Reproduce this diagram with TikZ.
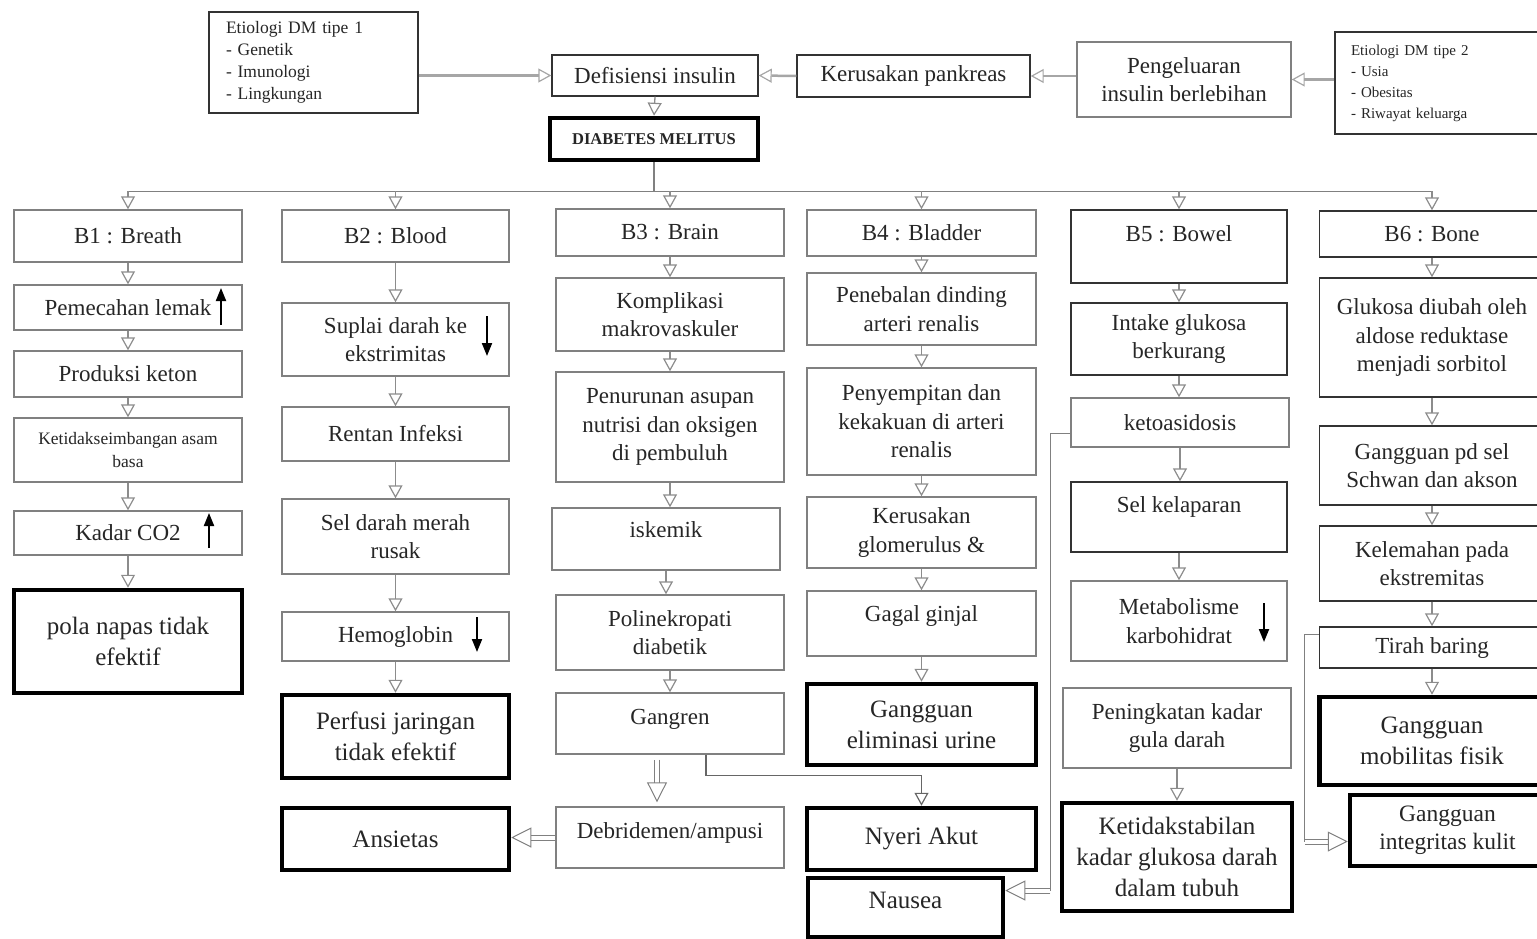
\documentclass[tikz,border=0pt]{standalone}
\usepackage{fontspec}
\setmainfont{Liberation Serif}
\usetikzlibrary{arrows.meta}

\begin{document}
\begin{tikzpicture}[
    x=1pt, y=-1pt,
    box/.style={draw=black!50, line width=1.4pt, fill=white, align=center, inner sep=2pt, text=black!85, font=\fontsize{23}{28.5}\selectfont},
    dark/.style={box, draw=black!80},
    dx/.style={box, draw=black, line width=4.5pt, font=\fontsize{25}{31}\selectfont},
    topbox/.style 2 args={inner ysep=0pt, text height=#1pt, text depth=#2pt},
    link/.style={draw=black!50, line width=1.2pt},
    arr/.style={draw=black!45, line width=1.3pt, -{Triangle[open, length=13pt, width=14pt, line width=1.2pt]}},
    toparr/.style={arr, draw=black!35, line width=2.5pt},
    bigarr/.style={draw=black!50, line width=1pt, double, double distance=4pt, -{Triangle[open, length=20pt, width=20pt]}},
    updown/.style={black, line width=2pt, -{Triangle[length=13pt, width=10pt]}}
]
\useasboundingbox (0,0) rectangle (1537,939);
% causes
\node[dark, font=\fontsize{17.5}{22}\selectfont, align=left, text width=175pt, minimum width=209pt, minimum height=101pt] (etia) at (313.5,62.5) {Etiologi DM tipe 1\\- Genetik\\- Imunologi\\- Lingkungan};
\node[dark, minimum width=206pt, minimum height=41pt] (def) at (655,75.5) {Defisiensi insulin};
\node[dx, font=\fontsize{16.5}{19}\selectfont\bfseries, minimum width=208pt, minimum height=42pt] (dm) at (654,139) {DIABETES MELITUS};
\node[dark, minimum width=233pt, minimum height=42pt] (kp) at (913.5,76) {Kerusakan pankreas};
\node[box, minimum width=214pt, minimum height=75pt] (pi) at (1184,79.5) {Pengeluaran\\insulin berlebihan};
\node[dark, font=\fontsize{15}{21}\selectfont, align=left, text width=178pt, minimum width=210pt, minimum height=102pt] (etib) at (1440,83) {Etiologi DM tipe 2\\- Usia\\- Obesitas\\- Riwayat keluarga};

% B1
\node[box, minimum width=228pt, minimum height=52pt] (b1) at (128,236) {B1 : Breath};
\node[box, minimum width=228pt, minimum height=45pt] (lemak) at (128,307.5) {Pemecahan lemak};
\node[box, minimum width=228pt, minimum height=46pt] (keton) at (128,374) {Produksi keton};
\node[box, font=\fontsize{17.5}{23}\selectfont, minimum width=228pt, minimum height=64pt] (asam) at (128,450) {Ketidakseimbangan asam\\basa};
\node[box, minimum width=228pt, minimum height=44pt] (co2) at (128,533) {Kadar CO2};
\node[dx, minimum width=228pt, minimum height=103pt] (pola) at (128,641.5) {pola napas tidak\\efektif};

% B2
\node[box, minimum width=227pt, minimum height=52pt] (b2) at (395.5,236) {B2 : Blood};
\node[box, minimum width=227pt, minimum height=73pt] (suplai) at (395.5,339.5) {Suplai darah ke\\ekstrimitas};
\node[box, minimum width=227pt, minimum height=54pt] (infeksi) at (395.5,434) {Rentan Infeksi};
\node[box, minimum width=227pt, minimum height=75pt] (merah) at (395.5,536.5) {Sel darah merah\\rusak};
\node[box, minimum width=227pt, minimum height=49pt] (hb) at (395.5,636.5) {Hemoglobin};
\node[dx, minimum width=227pt, minimum height=83pt] (perfusi) at (395.5,736.5) {Perfusi jaringan\\tidak efektif};
\node[dx, minimum width=227pt, minimum height=62pt] (ansietas) at (395.5,839) {Ansietas};

% B3
\node[box, minimum width=228pt, minimum height=47pt] (b3) at (670,232.5) {B3 : Brain};
\node[box, minimum width=228pt, minimum height=73pt] (komp) at (670,314.5) {Komplikasi\\makrovaskuler};
\node[box, minimum width=228pt, minimum height=110pt] (nutrisi) at (670,427) {Penurunan asupan\\nutrisi dan oksigen\\di pembuluh};
\node[box, topbox={29}{33}, minimum width=228pt] (iskemik) at (666,539) {iskemik};
\node[box, minimum width=228pt, minimum height=75pt] (poli) at (670,632.5) {Polinekropati\\diabetik};
\node[box, topbox={31}{30}, minimum width=228pt] (gangren) at (670,723.5) {Gangren};
\node[box, topbox={31}{30}, minimum width=228pt] (debri) at (670,837.5) {Debridemen/ampusi};

% B4
\node[box, minimum width=229pt, minimum height=46pt] (b4) at (921.5,233) {B4 : Bladder};
\node[box, minimum width=229pt, minimum height=72pt] (penebalan) at (921.5,309) {Penebalan dinding\\arteri renalis};
\node[box, minimum width=229pt, minimum height=107pt] (penyempitan) at (921.5,421.5) {Penyempitan dan\\kekakuan di arteri\\renalis};
\node[box, minimum width=229pt, minimum height=71pt] (glom) at (921.5,532.5) {Kerusakan\\glomerulus \&};
\node[box, topbox={30}{35}, minimum width=229pt] (gagal) at (921.5,623.5) {Gagal ginjal};
\node[dx, minimum width=229pt, minimum height=81pt] (elim) at (921.5,724.5) {Gangguan\\eliminasi urine};
\node[dx, minimum width=229pt, minimum height=62pt] (nyeri) at (921.5,839) {Nyeri Akut};
\node[dx, topbox={30}{29}, minimum width=195pt] (nausea) at (905.5,907.5) {Nausea};

% B5
\node[dark, topbox={31}{42}, minimum width=216pt] (b5) at (1179,246.5) {B5 : Bowel};
\node[dark, minimum width=216pt, minimum height=72pt] (intake) at (1179,339) {Intake glukosa\\berkurang};
\node[box, minimum width=218pt, minimum height=49pt] (keto) at (1180,422.5) {ketoasidosis};
\node[dark, topbox={30}{40}, minimum width=216pt] (lapar) at (1179,517) {Sel kelaparan};
\node[box, minimum width=216pt, minimum height=80pt] (metab) at (1179,621) {Metabolisme\\karbohidrat};
\node[box, minimum width=228pt, minimum height=80pt] (naik) at (1177,728) {Peningkatan kadar\\gula darah};
\node[dx, minimum width=230pt, minimum height=108pt] (stabil) at (1177,857) {Ketidakstabilan\\kadar glukosa darah\\dalam tubuh};

% B6
\node[dark, minimum width=225pt, minimum height=46pt] (b6) at (1432,234) {B6 : Bone};
\node[dark, minimum width=225pt, minimum height=119pt] (sorbitol) at (1432,337.5) {Glukosa diubah oleh\\aldose reduktase\\menjadi sorbitol};
\node[dark, minimum width=225pt, minimum height=79pt] (schwan) at (1432,465.5) {Gangguan pd sel\\Schwan dan akson};
\node[dark, minimum width=225pt, minimum height=75pt] (lemah) at (1432,563.5) {Kelemahan pada\\ekstremitas};
\node[dark, minimum width=225pt, minimum height=41pt] (tirah) at (1432,647.5) {Tirah baring};
\node[dx, minimum width=225pt, minimum height=88pt] (mobil) at (1432,741) {Gangguan\\mobilitas fisik};
\node[dx, font=\fontsize{23.5}{28}\selectfont, minimum width=195pt, minimum height=71pt] (kulit) at (1447.5,830.5) {Gangguan\\integritas kulit};

% top arrows
\draw[toparr] (etia.east |- def.west) -- (def.west);
\draw[toparr] (kp.west) -- (def.east);
\draw[toparr] (pi.west |- kp.east) -- (kp.east);
\draw[toparr] (etib.west |- pi.east) -- (pi.east);
\draw[arr] (def.south) -- (dm.north);

% bus to the six B's
\draw[link] (dm.south) -- ++(0,29) coordinate (bus);
\draw[link] (b1.north |- bus) -- (b6.north |- bus);
\foreach \n in {b1,b2,b3,b4,b5,b6}
  \draw[arr] (\n.north |- bus) -- (\n.north);

% chains
\foreach \a/\b in {b1/lemak, lemak/keton, keton/asam, asam/co2, co2/pola,
    b2/suplai, suplai/infeksi, infeksi/merah, merah/hb, hb/perfusi,
    b3/komp, komp/nutrisi, nutrisi/iskemik, iskemik/poli, poli/gangren,
    b4/penebalan, penebalan/penyempitan, penyempitan/glom, glom/gagal, gagal/elim,
    b5/intake, intake/keto, keto/lapar, lapar/metab, naik/stabil,
    b6/sorbitol, sorbitol/schwan, schwan/lemah, lemah/tirah, tirah/mobil}
  \draw[arr] (\a.south) -- (\a.south |- \b.north);

% cross links
\draw[bigarr, shorten <=5pt, shorten >=4pt] ([xshift=-13pt]gangren.south) -- ([xshift=-13pt]gangren.south |- debri.north);
\draw[bigarr] (debri.west) -- (debri.west -| ansietas.east);
\draw[arr, draw=black!60] ([xshift=36pt]gangren.south) |- ([yshift=30pt]nyeri.north) -- (nyeri.north);
\draw[link] ([yshift=-11pt]keto.west) -| ([xshift=45pt,yshift=17pt]nausea.east) coordinate (kn);
\draw[bigarr] (kn) -- ([yshift=17pt]nausea.east);
\draw[link] ([yshift=13pt]tirah.west) -| ([xshift=-43pt,yshift=-11pt]kulit.west) coordinate (tk);
\draw[bigarr] (tk) -- ([yshift=-11pt]kulit.west);

% up / down marks
\draw[updown] (221,325) -- (221,288);
\draw[updown] (209,548) -- (209,513);
\draw[updown] (487,316) -- (487,356);
\draw[updown] (477,617) -- (477,652);
\draw[updown] (1264,603) -- (1264,642);
\end{tikzpicture}
\end{document}
